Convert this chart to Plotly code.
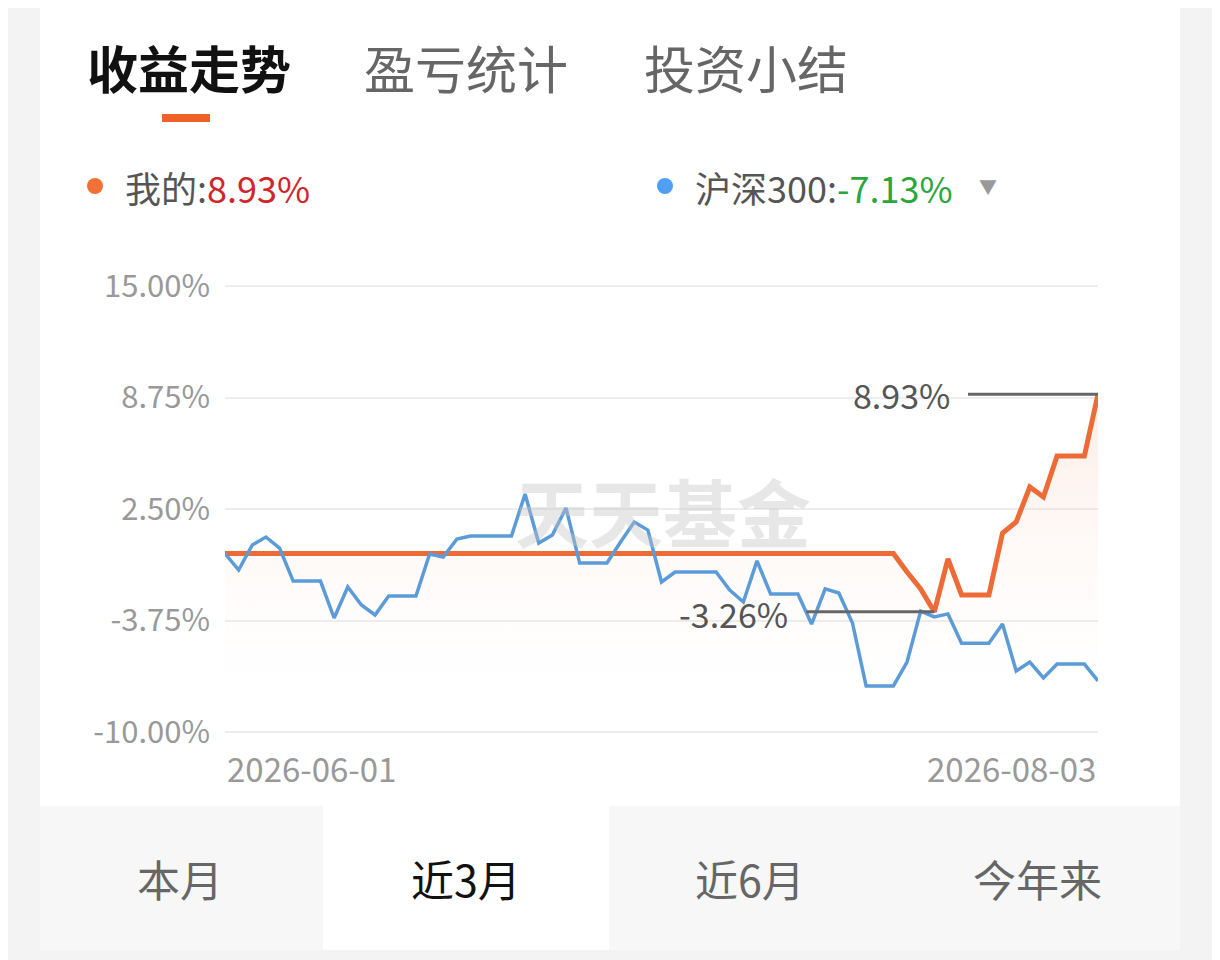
import pandas as pd
import plotly.graph_objects as go

# ---- data ----
START_DATE = "2026-05-31"
END_DATE = "2026-08-03"
X_LABELS = ["2026-06-01", "2026-08-03"]

mine = [0.0] * 50 + [-1.03, -1.98, -3.26, -0.30, -2.32, -2.32, -2.32,
                     1.15, 1.77, 3.73, 3.17, 5.47, 5.47, 5.47, 8.93]
hs300 = [0.0, -0.92, 0.48, 0.93, 0.31, -1.54, -1.54, -1.54, -3.61, -1.87,
         -2.88, -3.44, -2.38, -2.38, -2.38, -0.02, -0.19, 0.82, 0.99, 0.99,
         0.99, 0.99, 3.34, 0.59, 1.04, 2.56, -0.53, -0.53, -0.53, 0.65,
         1.77, 1.32, -1.59, -1.03, -1.03, -1.03, -1.03, -2.04, -2.71, -0.41,
         -2.26, -2.26, -2.26, -3.95, -1.98, -2.21, -3.89, -7.42, -7.42, -7.42,
         -6.08, -3.22, -3.55, -3.38, -5.02, -5.02, -5.02, -3.95, -6.58, -6.08,
         -6.97, -6.19, -6.19, -6.19, -7.13]
y_ticks = [15, 8.75, 2.5, -3.75, -10]
y_ticktext = ["15.00%", "8.75%", "2.50%", "-3.75%", "-10.00%"]

top_tabs = ["收益走势", "盈亏统计", "投资小结"]
range_tabs = ["本月", "近3月", "近6月", "今年来"]

dates = pd.date_range(START_DATE, END_DATE)

# the page body has an 8px margin, so the figure is a bit smaller and
# screen positions are shifted by that margin
OFF = 8
W, H = 1220 - OFF, 960 - OFF
FONT = "Noto Sans CJK SC"
ORANGE = "#ec6b36"
BLUE = "#5b9bd7"


def px(x):
    return (x - OFF) / W


def py(y):
    return 1 - (y - OFF) / H


fig = go.Figure()

# base line at the bottom of the axis so the fill runs down to -10%
fig.add_trace(go.Scatter(x=dates, y=[y_ticks[-1]] * len(dates), mode="lines",
                         line=dict(width=0), hoverinfo="skip", showlegend=False))
fig.add_trace(go.Scatter(
    x=dates, y=mine, mode="lines", name="我的",
    line=dict(color=ORANGE, width=5),
    fill="tonexty",
    fillgradient=dict(type="vertical", start=-10, stop=max(mine),
                      colorscale=[[0, "rgba(255,255,255,0)"],
                                  [1, "rgba(240,120,70,0.14)"]]),
    showlegend=False))
fig.add_trace(go.Scatter(x=dates, y=hs300, mode="lines", name="沪深300",
                         line=dict(color=BLUE, width=3.5), showlegend=False))

# max / min markers
i_max = mine.index(max(mine))
i_min = mine.index(min(mine))
shapes = []
for idx, off in [(i_max, -130), (i_min, -128)]:
    shapes.append(dict(type="line", xref="x", yref="y", xsizemode="pixel",
                       xanchor=dates[idx], x0=off, x1=0,
                       y0=mine[idx], y1=mine[idx],
                       line=dict(color="#666666", width=3)))

LABEL_FONT = dict(family=FONT, size=34, color="#555555")
annotations = [
    dict(x=dates[i_max], y=mine[i_max], xref="x", yref="y", xanchor="right",
         yanchor="middle", xshift=-146, text=f"{mine[i_max]:.2f}%",
         showarrow=False, font=LABEL_FONT),
    dict(x=dates[i_min], y=mine[i_min], xref="x", yref="y", xanchor="right",
         yanchor="middle", xshift=-144, yshift=-2, text=f"{mine[i_min]:.2f}%",
         showarrow=False, font=LABEL_FONT),
    # date labels under the axis
    dict(x=dates[0], y=py(768), xref="x", yref="paper", xanchor="left",
         yanchor="middle", text=X_LABELS[0], showarrow=False,
         font=dict(family=FONT, size=33, color="#999999")),
    dict(x=dates[-1], y=py(768), xref="x", yref="paper", xanchor="right",
         yanchor="middle", text=X_LABELS[1], showarrow=False,
         font=dict(family=FONT, size=33, color="#999999")),
    # watermark
    dict(x=px(663), y=py(509), xref="paper", yref="paper", text="<b>天天基金</b>",
         showarrow=False, font=dict(family=FONT, size=74,
                                    color="rgba(195,195,195,0.4)")),
]

# top tabs
tab_x = [85, 362, 642]
for k, t in enumerate(top_tabs):
    annotations.append(dict(
        x=px(tab_x[k]), y=py(67), xref="paper", yref="paper", xanchor="left",
        yanchor="middle", showarrow=False,
        text=f"<b>{t}</b>" if k == 0 else t,
        font=dict(family=FONT, size=51, color="#111111" if k == 0 else "#666666")))

# legend row
annotations.append(dict(
    x=px(123), y=py(187), xref="paper", yref="paper", xanchor="left",
    yanchor="middle", showarrow=False,
    text=f"我的:<span style='color:#d0262b'>{mine[-1]:.2f}%</span>",
    font=dict(family=FONT, size=36, color="#555555")))
annotations.append(dict(
    x=px(693), y=py(187), xref="paper", yref="paper", xanchor="left",
    yanchor="middle", showarrow=False,
    text=f"沪深300:<span style='color:#2aa63a'>{hs300[-1]:.2f}%</span>",
    font=dict(family=FONT, size=36, color="#555555")))
annotations.append(dict(
    x=px(988), y=py(186), xref="paper", yref="paper", xanchor="center",
    yanchor="middle", showarrow=False, text="▼",
    font=dict(family=FONT, size=18, color="#999999")))

# range tabs
range_x = [180, 466, 750, 1037]
for k, t in enumerate(range_tabs):
    annotations.append(dict(
        x=px(range_x[k]), y=py(878), xref="paper", yref="paper",
        xanchor="center", yanchor="middle", showarrow=False, text=t,
        font=dict(family=FONT, size=43, color="#111111" if k == 1 else "#666666")))

# backgrounds (paper coordinates)
bg = [
    dict(type="rect", xref="paper", yref="paper", x0=px(40), x1=px(1180),
         y0=py(806), y1=1.02, fillcolor="white", line_width=0,
         layer="below"),
    dict(type="rect", xref="paper", yref="paper", x0=px(40), x1=px(1180),
         y0=py(950), y1=py(806), fillcolor="#f7f7f7", line_width=0,
         layer="below"),
    dict(type="rect", xref="paper", yref="paper", x0=px(323), x1=px(609),
         y0=py(950), y1=py(806), fillcolor="white", line_width=0,
         layer="below"),
    # active tab underline
    dict(type="rect", xref="paper", yref="paper", x0=px(162), x1=px(210),
         y0=py(122), y1=py(114), fillcolor="#ef6127", line_width=0),
    # legend dots
    dict(type="circle", xref="paper", yref="paper", x0=px(87), x1=px(103),
         y0=py(194), y1=py(178), fillcolor="#f07036", line_width=0),
    dict(type="circle", xref="paper", yref="paper", x0=px(657), x1=px(673),
         y0=py(194), y1=py(178), fillcolor="#4f9ff5", line_width=0),
]

# pad the y range a little so the 15% and -10% grid lines are not dropped
# at the plot edges; the domain grows by the same amount in pixels
PAD = 0.15
PX_PER_PCT = (732 - 286) / 25

fig.update_layout(
    width=W, height=H,
    margin=dict(l=0, r=0, t=0, b=0, pad=0, autoexpand=False),
    paper_bgcolor="#f3f3f3",
    plot_bgcolor="white",
    font=dict(family=FONT),
    showlegend=False,
    hovermode=False,
    shapes=bg + shapes,
    annotations=annotations,
    xaxis=dict(domain=[px(225), px(1098)], range=[dates[0], dates[-1]],
               showgrid=False, showticklabels=False, zeroline=False,
               showline=False, fixedrange=True, automargin=False),
    yaxis=dict(domain=[py(732 + PAD * PX_PER_PCT), py(286 - PAD * PX_PER_PCT)],
               range=[-10 - PAD, 15 + PAD],
               tickvals=y_ticks, ticktext=y_ticktext,
               tickfont=dict(family=FONT, size=31, color="#999999"),
               ticklabelstandoff=14, automargin=False,
               showgrid=True, gridcolor="#ededed", gridwidth=1.5,
               zeroline=False, showline=False, fixedrange=True),
)

fig.write_html("out.html")
